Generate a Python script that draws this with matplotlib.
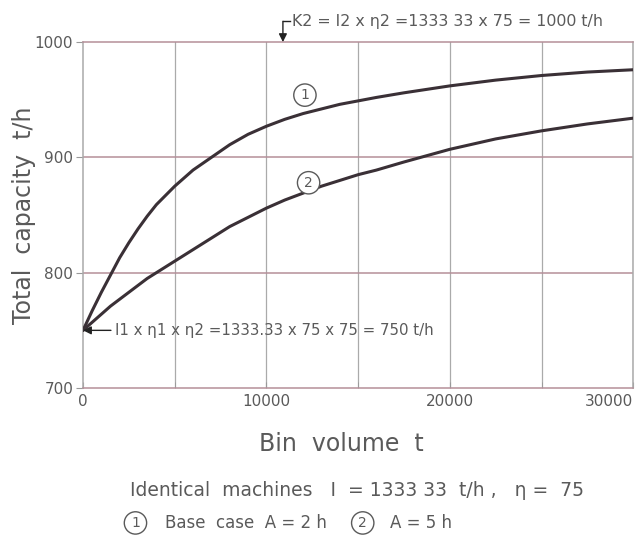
import matplotlib
matplotlib.use("Agg")
import matplotlib.pyplot as plt

# values
bin_volume = [0, 500, 1000, 1500, 2000, 2500, 3000, 3500, 4000, 4500, 5000,
              6000, 7000, 8000, 9000, 10000, 11000, 12000, 13000, 14000, 15000,
              16000, 17500, 20000, 22500, 25000, 27500, 30000]
capacity_base = [750, 767, 783, 798, 813, 826, 838, 849, 859, 867, 875,
                 889, 900, 911, 920, 927, 933, 938, 942, 946, 949,
                 952, 956, 962, 967, 971, 974, 976]
capacity_a5 = [750, 757, 764, 771, 777, 783, 789, 795, 800, 805, 810,
               820, 830, 840, 848, 856, 863, 869, 875, 880, 885,
               889, 896, 907, 916, 923, 929, 934]

x_ticks = [0, 10000, 20000, 30000]
x_minor = [5000, 15000, 25000]
y_ticks = [700, 800, 900, 1000]

TEXT_COLOR = "#5a5a5a"
LINE_COLOR = "#3a3036"
GRID_V = "#aaaaaa"
GRID_H = "#b58f99"

fig = plt.figure(figsize=(6.42, 5.38), dpi=100)
ax = fig.add_axes([0.1293, 0.2788, 0.857, 0.643])

ax.plot(bin_volume, capacity_base, color=LINE_COLOR, lw=2.2, solid_capstyle="round", zorder=3)
ax.plot(bin_volume, capacity_a5, color=LINE_COLOR, lw=2.2, solid_capstyle="round", zorder=3)

ax.set_xlim(0, 30000)
ax.set_ylim(700, 1000)
ax.set_xticks(x_ticks)
ax.set_xticks(x_minor, minor=True)
ax.set_yticks(y_ticks)
ax.set_xticklabels([str(v) for v in x_ticks], color=TEXT_COLOR, fontsize=11)
ax.set_yticklabels([str(v) for v in y_ticks], color=TEXT_COLOR, fontsize=11)
ax.get_xticklabels()[-1].set_horizontalalignment("right")
ax.tick_params(axis="x", which="both", length=4, color="#999999", direction="in", pad=4)
ax.tick_params(axis="y", length=5, color="#999999", direction="out", pad=2)

for v in x_ticks[1:] + x_minor:
    ax.axvline(v, color=GRID_V, lw=0.9, zorder=1)
for v in y_ticks[1:3]:
    ax.axhline(v, color=GRID_H, lw=1.1, zorder=1)

ax.spines["top"].set_color(GRID_H)
ax.spines["bottom"].set_color(GRID_H)
ax.spines["left"].set_color(GRID_V)
ax.spines["right"].set_color(GRID_V)
for s in ax.spines.values():
    s.set_linewidth(1.1)

ax.set_xlabel("Bin  volume  t", fontsize=17, color=TEXT_COLOR)
ax.xaxis.set_label_coords(0.47, -0.128)
ax.set_ylabel("Total  capacity  t/h", fontsize=17, color=TEXT_COLOR)
ax.yaxis.set_label_coords(-0.085, 0.5)

# curve labels
circ = dict(boxstyle="circle,pad=0.3", fc="white", ec=TEXT_COLOR, lw=1.0)
ax.text(12100, 954, "1", fontsize=10, color=TEXT_COLOR, ha="center", va="center", bbox=circ)
ax.text(12300, 878, "2", fontsize=10, color=TEXT_COLOR, ha="center", va="center", bbox=circ)

# annotation at start point
ax.annotate("I1 x η1 x η2 =1333.33 x 75 x 75 = 750 t/h", xy=(0, 750), xytext=(1750, 750),
            fontsize=10.8, color=TEXT_COLOR, va="center", ha="left",
            arrowprops=dict(arrowstyle="-|>", color="#222222", lw=1.0, mutation_scale=12,
                            shrinkA=1, shrinkB=0))

# annotation at the top limit
ax.annotate("", xy=(10900, 1000), xytext=(10900, 1018),
            arrowprops=dict(arrowstyle="-|>", color="#222222", lw=1.0, mutation_scale=12,
                            shrinkA=0, shrinkB=0), annotation_clip=False)
ax.plot([10900, 11300], [1018, 1018], color="#222222", lw=1.0, clip_on=False)
ax.text(11400, 1018, "K2 = I2 x η2 =1333 33 x 75 = 1000 t/h", fontsize=11.4, color=TEXT_COLOR,
        va="center", ha="left", clip_on=False)

# notes under the chart
fig.text(0.203, 0.089, "Identical  machines   I  = 1333 33  t/h ,   η =  75", fontsize=13.5,
         color=TEXT_COLOR, ha="left", va="center")
fig.text(0.211, 0.028, "1", fontsize=10, color=TEXT_COLOR, ha="center", va="center", bbox=circ)
fig.text(0.257, 0.028, "Base  case  A = 2 h", fontsize=12, color=TEXT_COLOR, ha="left", va="center")
fig.text(0.565, 0.028, "2", fontsize=10, color=TEXT_COLOR, ha="center", va="center", bbox=circ)
fig.text(0.607, 0.028, "A = 5 h", fontsize=12, color=TEXT_COLOR, ha="left", va="center")

fig.savefig("out.png", dpi=100)
